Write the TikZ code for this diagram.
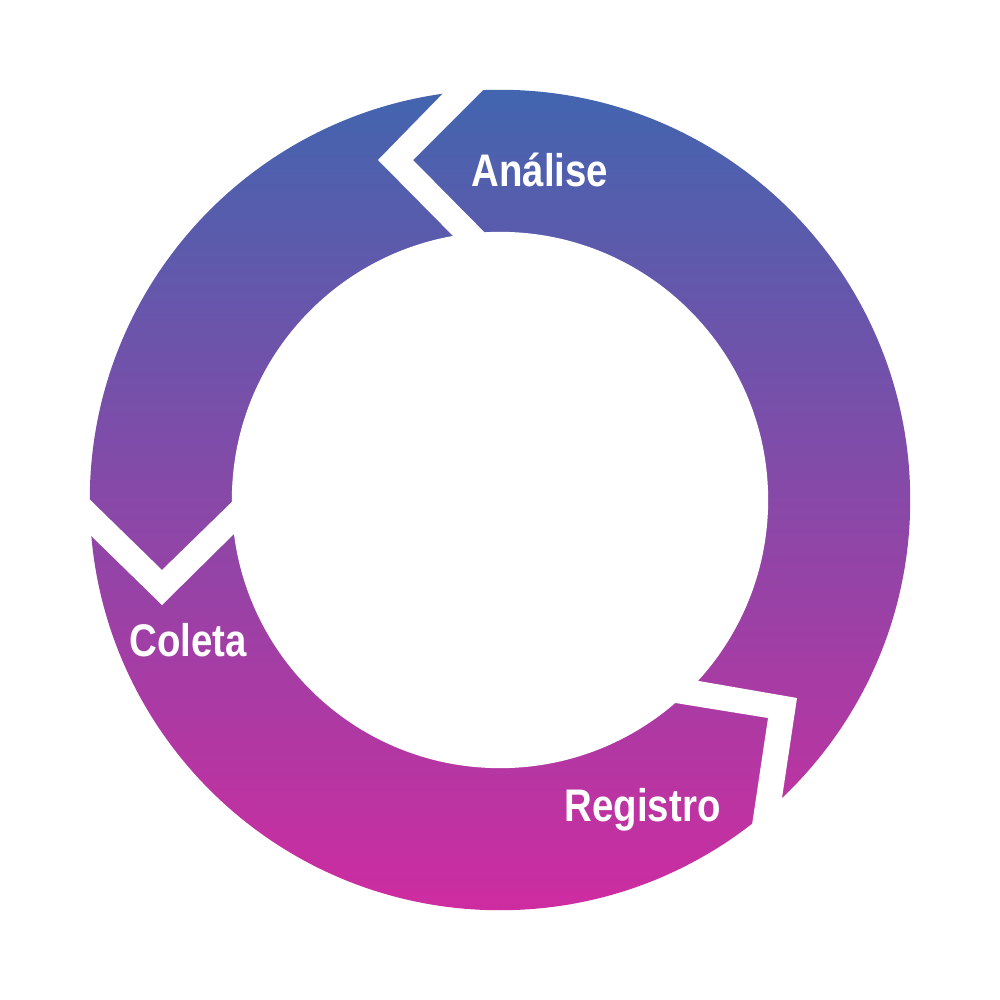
\documentclass[tikz,border=0pt]{standalone}
\usepackage{fontspec}
\setmainfont{Liberation Sans}
\definecolor{topc}{RGB}{66,101,175}
\definecolor{botc}{RGB}{206,44,160}
\tikzset{
  lbl/.style={anchor=base west, inner sep=0pt, text=white, font=\fontsize{13}{15}\selectfont\bfseries},
  gap/.style={fill=white, draw=none}
}
\newcommand{\cond}[1]{\scalebox{0.84}[1]{#1}}
\begin{document}
\begin{tikzpicture}[x=0.01cm,y=-0.01cm]
\useasboundingbox (0,0) rectangle (1000,1000);
\fill[white] (0,0) rectangle (1000,1000);
% ring
\shade[top color=topc, bottom color=botc] (500,500) circle (4.1cm);
\fill[white] (500,500) circle (2.68cm);
% chevron gaps
\fill[gap] (458,78) -- (378,160) -- (462,245) -- (497,245) -- (413,160) -- (495,78) -- cycle;
\fill[gap] (80,490) -- (162,570) -- (242,492) -- (243,525) -- (162,605) -- (80,525) -- cycle;
\fill[gap] (670,676) -- (797,698) -- (779,818) -- (749,845) -- (768,718) -- (657,700) -- cycle;
% labels
\node[lbl] (analise) at (471,186) {\cond{Análise}};
\node[lbl] (coleta) at (129,656) {\cond{Coleta}};
\node[lbl] (registro) at (564,821) {\cond{Registro}};
\end{tikzpicture}
\end{document}
